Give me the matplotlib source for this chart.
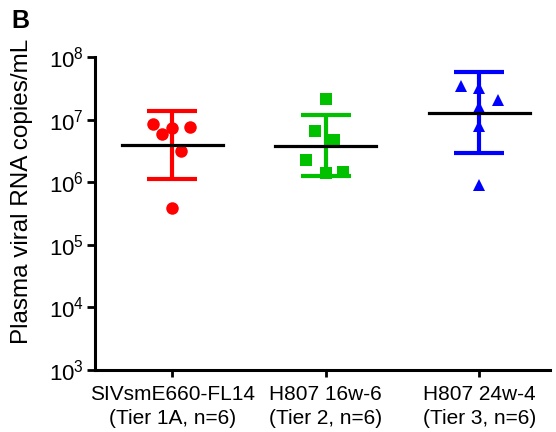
import numpy as np
import matplotlib
matplotlib.use("Agg")
import matplotlib.pyplot as plt

plt.rcParams["font.family"] = ["Liberation Sans", "DejaVu Sans"]

# groups
groups = ["SIVsmE660-FL14\n(Tier 1A, n=6)",
          "H807 16w-6\n(Tier 2, n=6)",
          "H807 24w-4\n(Tier 3, n=6)"]
colors = ["#ff0000", "#00c000", "#0000ff"]
markers = ["o", "s", "^"]

# individual animals (copies/mL) and their horizontal jitter
red_vals = [8.5e6, 5.9e6, 7.35e6, 7.7e6, 3.2e6, 3.85e5]
red_dx = [-0.126, -0.065, 0.0, 0.118, 0.057, 0.0]
green_vals = [2.1e7, 6.6e6, 4.8e6, 2.3e6, 1.42e6, 1.44e6]
green_dx = [0.0, -0.067, 0.052, -0.126, 0.0, 0.113]
blue_vals = [3.4e7, 3.15e7, 2.05e7, 1.6e7, 8.0e6, 9.0e5]
blue_dx = [-0.12, 0.0, 0.12, 0.0, 0.0, 0.0]

# geometric means and SD limits
means = [3.93e6, 3.78e6, 1.26e7]
upper = [1.37e7, 1.17e7, 5.7e7]
lower = [1.12e6, 1.26e6, 2.96e6]

vals = [red_vals, green_vals, blue_vals]
dxs = [red_dx, green_dx, blue_dx]
xpos = [1, 2, 3]

fig = plt.figure(figsize=(5.56, 4.32), dpi=100)
ax = fig.add_axes([0.171, 0.1435, 0.818, 0.7245])

for i in range(3):
    x = xpos[i]
    ax.errorbar([x], [means[i]],
                yerr=[[means[i] - lower[i]], [upper[i] - means[i]]],
                fmt="none", ecolor=colors[i], elinewidth=3, capsize=18,
                capthick=3, zorder=2)
    ax.plot(np.array(dxs[i]) + x, vals[i], linestyle="none",
            marker=markers[i], color=colors[i], markersize=9,
            markeredgewidth=0, zorder=3)
    ax.plot([x - 0.33, x + 0.33], [means[i], means[i]], color="black",
            linewidth=2.3, zorder=4)

ax.set_yscale("log")
ax.set_ylim(1e3, 1e8)
ax.set_xlim(0.497, 3.46)
ax.set_yticks([1e3, 1e4, 1e5, 1e6, 1e7, 1e8])
ax.minorticks_off()
ax.set_xticks(xpos)
ax.set_xticklabels(groups, fontsize=15, linespacing=1.3)
ax.tick_params(axis="y", labelsize=16, length=6, width=2, pad=2)
ax.tick_params(axis="x", length=5, width=2, pad=6)
ax.set_ylabel("Plasma viral RNA copies/mL", fontsize=17.5)
ax.yaxis.set_label_coords(-0.137, 0.57)

for s in ["top", "right"]:
    ax.spines[s].set_visible(False)
for s in ["left", "bottom"]:
    ax.spines[s].set_linewidth(2.2)

fig.text(0.02, 0.935, "B", fontsize=18, fontweight="bold")

fig.savefig("out.png", dpi=100)
